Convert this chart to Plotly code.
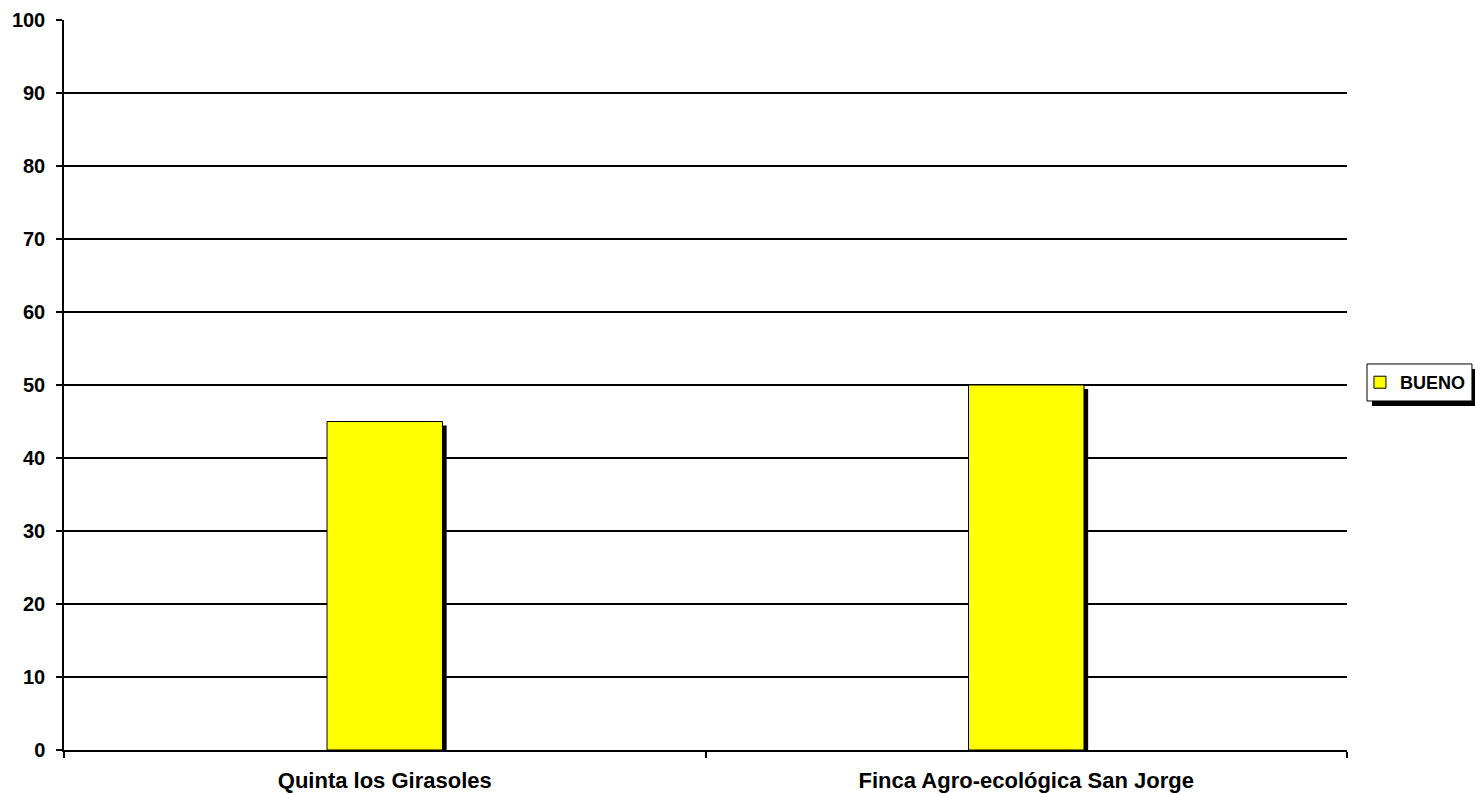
import plotly.graph_objects as go

categories = ["Quinta los Girasoles", "Finca Agro-ecológica San Jorge"]
bueno = [45, 50]
series_name = "BUENO"
y_ticks = list(range(0, 101, 10))

FONT = "Liberation Sans, Arial, sans-serif"
BAR_W = 0.18
shadow_dy = 0.55  # shadow drop in value units (~4px)

fig = go.Figure()
# bar drop shadow
fig.add_trace(go.Bar(
    x=categories, y=[v - shadow_dy for v in bueno],
    width=BAR_W, offset=-BAR_W / 2 + 0.0065,
    marker=dict(color="black", line=dict(width=0)),
    showlegend=False, hoverinfo="skip"))
fig.add_trace(go.Bar(
    x=categories, y=bueno, name=series_name,
    width=BAR_W, offset=-BAR_W / 2,
    marker=dict(color="#FFFF00", line=dict(color="black", width=1))))

fig.update_layout(
    width=1475, height=794,
    margin=dict(l=64, r=128, t=20, b=44, autoexpand=False),
    paper_bgcolor="white", plot_bgcolor="white",
    barmode="overlay",
    font=dict(family=FONT, size=18, color="black"),
    showlegend=True,
    legend=dict(
        x=1.0101, y=0.5034, xanchor="left", yanchor="middle",
        bgcolor="rgba(0,0,0,0)", borderwidth=0,
        font=dict(family=FONT, size=18, color="black", weight="bold"),
        itemwidth=30),
    xaxis=dict(
        type="category", showgrid=False, showline=True, linecolor="black",
        linewidth=1.5, ticks="outside", tickson="boundaries", ticklen=6,
        tickwidth=1.5, tickcolor="black", ticklabelstandoff=10, automargin=False,
        tickfont=dict(family=FONT, size=22, weight="bold")),
    yaxis=dict(
        range=[0, 100], tickvals=y_ticks, showgrid=True, gridcolor="black",
        gridwidth=1.5, showline=True, linecolor="black", linewidth=1.5,
        ticks="outside", ticklen=6, tickwidth=1.5, tickcolor="black",
        zeroline=False, ticklabelstandoff=7, automargin=False,
        tickfont=dict(family=FONT, size=20, weight="bold")),
)

# legend box with drop shadow
fig.add_shape(type="rect", xref="paper", yref="paper",
              x0=1.0195, x1=1.1013, y0=0.4712, y1=0.5219,
              fillcolor="black", line=dict(width=0), layer="below")
fig.add_shape(type="rect", xref="paper", yref="paper",
              x0=1.0156, x1=1.0974, y0=0.4781, y1=0.5288,
              fillcolor="white", line=dict(color="black", width=1), layer="below")

fig.write_html(
    "out.html",
    config={"displayModeBar": False},
    post_script="document.body.style.margin='0';document.body.style.overflow='hidden';")
